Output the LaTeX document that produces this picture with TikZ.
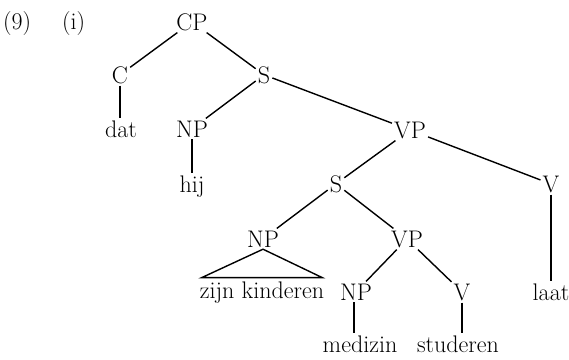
\documentclass[tikz,border=0pt]{standalone}
\begin{document}
\begin{tikzpicture}[x=1bp,y=-1bp,
  lbl/.style={anchor=base,inner sep=2bp,font=\fontsize{24bp}{28bp}\selectfont},
  edge/.style={line width=1.4bp}]
\useasboundingbox (0,0) rectangle (569,359);
\node[lbl,anchor=base west] (ex) at (1,29) {(9)};
\node[lbl,anchor=base west] (sub) at (60,29) {(i)};
\node[lbl] (CP) at (192,30) {CP};
\node[lbl] (C) at (120,83) {C};
\node[lbl] (S1) at (264,83) {S};
\node[lbl] (dat) at (121,137) {dat};
\node[lbl] (NP1) at (192,137) {NP};
\node[lbl] (hij) at (192,192) {hij};
\node[lbl] (VP1) at (410,138) {VP};
\node[lbl] (S2) at (336,192) {S};
\node[lbl] (V1) at (551,192) {V};
\node[lbl] (NP2) at (263,247) {NP};
\node[lbl] (VP2) at (407,247) {VP};
\node[lbl,inner xsep=-2bp,inner ysep=3.5bp] (zk) at (262,298) {zijn kinderen};
\node[lbl] (NP3) at (356,300) {NP};
\node[lbl] (V2) at (462,300) {V};
\node[lbl] (laat) at (551,300) {laat};
\node[lbl] (med) at (360,352) {medizin};
\node[lbl] (stu) at (458,352) {studeren};
\draw[edge] (CP) -- (C);
\draw[edge] (CP) -- (S1);
\draw[edge] (C.south) -- (C.south |- dat.north);
\draw[edge] (S1) -- (NP1);
\draw[edge] (S1) -- (VP1);
\draw[edge] (NP1.south) -- (NP1.south |- hij.north);
\draw[edge] (VP1) -- (S2);
\draw[edge] (VP1) -- (V1);
\draw[edge] (V1.south) -- (V1.south |- laat.north);
\draw[edge] (S2) -- (NP2);
\draw[edge] (S2) -- (VP2);
\draw[edge,line join=miter] (NP2.south) -- (zk.north west) -- (zk.north east) -- cycle;
\draw[edge] (VP2) -- (NP3);
\draw[edge] (VP2) -- (V2);
\draw[edge] ([xshift=-2bp]NP3.south) -- ([xshift=-2bp]NP3.south |- med.north);
\draw[edge] (V2.south) -- (V2.south |- stu.north);
\end{tikzpicture}
\end{document}
